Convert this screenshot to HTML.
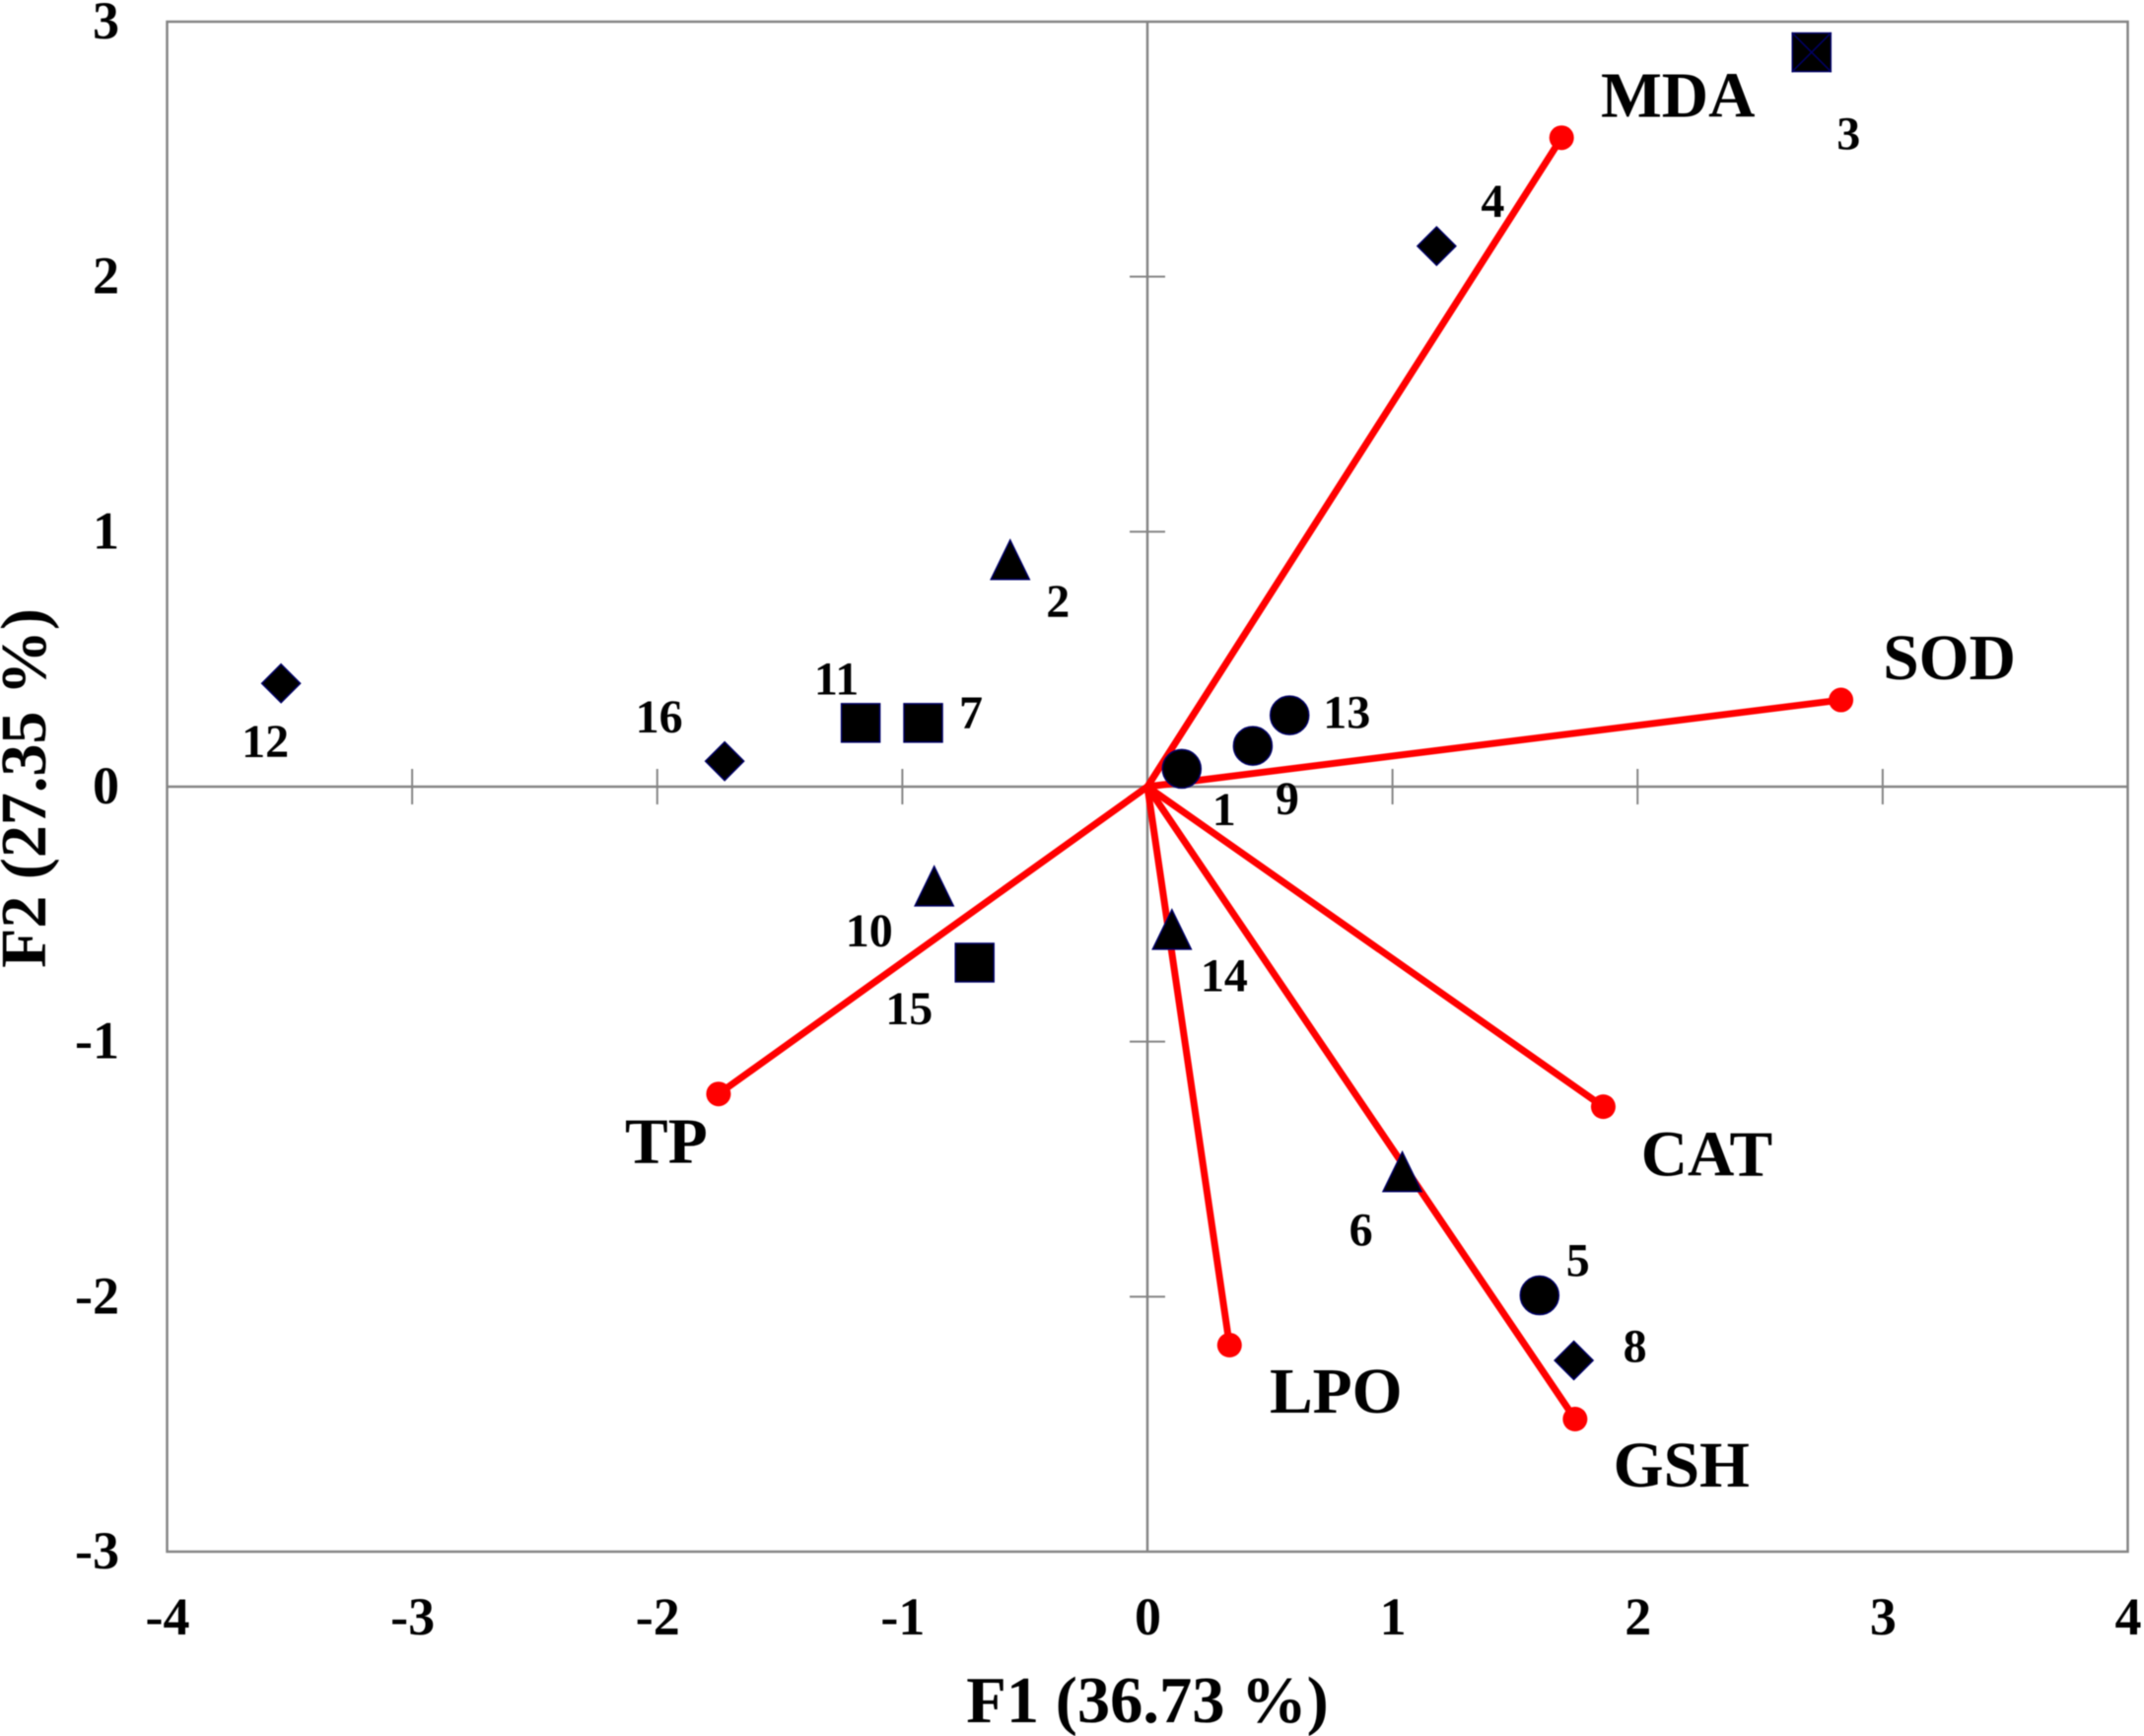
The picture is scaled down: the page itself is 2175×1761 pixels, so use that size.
<!DOCTYPE html>
<html>
<head>
<meta charset="utf-8">
<title>PCA biplot F1 vs F2</title>
<style>
  html, body { margin: 0; padding: 0; background: #fff; }
  svg { display: block; filter: blur(0.6px); }
  text { font-family: "Liberation Serif", serif; font-weight: bold; fill: #000; }
</style>
</head>
<body>
<svg id="chart" xmlns="http://www.w3.org/2000/svg" width="2175" height="1761" viewBox="0 0 2175 1761"></svg>
<script>
const xTicks = [-4, -3, -2, -1, 0, 1, 2, 3, 4];
const yTicks = [-3, -2, -1, 0, 1, 2, 3];

const varNames = ["MDA", "SOD", "CAT", "GSH", "LPO", "TP"];
const varF1 = [1.69, 2.83, 1.86, 1.745, 0.335, -1.75];
const varF2 = [2.545, 0.34, -1.255, -2.48, -2.19, -1.205];

const obsIds = ["1", "2", "3", "4", "5", "6", "7", "8", "9", "10", "11", "12", "13", "14", "15", "16"];
const obsF1 = [0.14, -0.56, 2.71, 1.18, 1.6, 1.04, -0.915, 1.74, 0.43, -0.87, -1.17, -3.535, 0.58, 0.1, -0.705, -1.725];
const obsF2 = [0.07, 0.89, 2.88, 2.12, -1.995, -1.51, 0.25, -2.25, 0.16, -0.39, 0.25, 0.405, 0.28, -0.56, -0.69, 0.1];
const obsGroup = ["circle", "triangle", "cross-square", "diamond", "circle", "triangle", "square", "diamond", "circle", "triangle", "square", "diamond", "circle", "triangle", "square", "diamond"];

const xAxisTitle = "F1 (36.73 %)";
const yAxisTitle = "F2 (27.35 %)";

const NS = "http://www.w3.org/2000/svg";
const svg = document.getElementById("chart");
const plot = { left: 169.5, right: 2158.5, top: 22, bottom: 1574 };
const sx = v => plot.left + (v + 4) * (plot.right - plot.left) / 8;
const sy = v => plot.bottom - (v + 3) * (plot.bottom - plot.top) / 6;

function make(tag, attrs, text) {
  const el = document.createElementNS(NS, tag);
  for (const k in attrs) el.setAttribute(k, attrs[k]);
  if (text !== undefined) el.textContent = text;
  svg.appendChild(el);
  return el;
}
const GREY = "#858585";
const NAVY = "#000066";

/* frame */
const frame = make("rect", { x: plot.left, y: plot.top, width: plot.right - plot.left, height: plot.bottom - plot.top, fill: "none", stroke: GREY, "stroke-width": 2.5 });



/* zero axes */
const xAxis = make("line", { x1: plot.left, x2: plot.right, y1: sy(0), y2: sy(0), stroke: GREY, "stroke-width": 2.5 });


const yAxis = make("line", { x1: sx(0), x2: sx(0), y1: plot.top, y2: plot.bottom, stroke: GREY, "stroke-width": 2.5 });



/* ticks + tick labels */
xTicks.forEach(t => {
  if (t !== 0 && Math.abs(t) < 4) {
    const tk = make("line", { x1: sx(t), x2: sx(t), y1: sy(0) - 18, y2: sy(0) + 18, stroke: GREY, "stroke-width": 2 });
    
    
  }
  const lb = make("text", { x: sx(t) + 0.5, y: 1658, "text-anchor": "middle", "font-size": 54 }, String(t));
  
  
});
yTicks.forEach(t => {
  if (t !== 0 && Math.abs(t) < 3) {
    const tk = make("line", { x1: sx(0) - 18, x2: sx(0) + 18, y1: sy(t), y2: sy(t), stroke: GREY, "stroke-width": 2 });
    
    
  }
  const lb = make("text", { x: 121, y: sy(t) + 17, "text-anchor": "end", "font-size": 54 }, String(t));
  
  
});

/* axis titles */
const xt = make("text", { x: 1164, y: 1747, "text-anchor": "middle", "font-size": 66.5 }, xAxisTitle);


const yt = make("text", { x: 46, y: 799.5, "text-anchor": "middle", "font-size": 66, transform: "rotate(-90 46 799.5)" }, yAxisTitle);



/* loading vectors */
const varLabelShift = { MDA: [118, -21], SOD: [110, -21], CAT: [105, 70], GSH: [108, 68.5], LPO: [108, 68.5], TP: [-53, 70] };
varNames.forEach((name, i) => {
  const ln = make("line", { x1: sx(0), y1: sy(0), x2: sx(varF1[i]), y2: sy(varF2[i]), stroke: "#ff0000", "stroke-width": 7 });
  
  
  const dot = make("circle", { cx: sx(varF1[i]), cy: sy(varF2[i]), r: 12.5, fill: "#ff0000" });
  
  
  const s = varLabelShift[name];
  const lb = make("text", { x: sx(varF1[i]) + s[0], y: sy(varF2[i]) + s[1], "text-anchor": "middle", "font-size": 65.5 }, name);
  
  
});

/* observations */
const obsLabelShift = {
  "1": [43, 57], "2": [48.5, 58], "3": [37.5, 98.5], "4": [57, -29.5],
  "5": [39, -19.5], "6": [-42, 75], "7": [48.5, 5.5], "8": [62, 1.5],
  "9": [35, 69.5], "10": [-66, 61], "11": [-24.5, -29], "12": [-16, 75],
  "13": [58, 13], "14": [53, 62.5], "15": [-66.5, 62.5], "16": [-66.5, -29]
};
const R = 20;
obsIds.forEach((id, i) => {
  const cx = sx(obsF1[i]), cy = sy(obsF2[i]);
  const g = obsGroup[i];
  const style = { fill: "#000", stroke: NAVY, "stroke-width": 1.5 };
  let mark;
  if (g === "circle") {
    mark = make("circle", Object.assign({ cx: cx, cy: cy, r: R - 0.5 }, style));
  } else if (g === "square" || g === "cross-square") {
    mark = make("rect", Object.assign({ x: cx - R + 0.5, y: cy - R + 0.5, width: 2 * R - 1, height: 2 * R - 1 }, style));
  } else if (g === "diamond") {
    mark = make("polygon", Object.assign({ points: [[cx, cy - R + 0.5], [cx + R - 0.5, cy], [cx, cy + R - 0.5], [cx - R + 0.5, cy]].join(" ") }, style));
  } else {
    mark = make("polygon", Object.assign({ points: [[cx, cy - R], [cx + R - 0.5, cy + R], [cx - R + 0.5, cy + R]].join(" ") }, style));
  }
  
  
  if (g === "cross-square") {
    const c1 = make("path", { d: "M" + (cx - R) + " " + (cy - R) + "L" + (cx + R) + " " + (cy + R) + "M" + (cx + R) + " " + (cy - R) + "L" + (cx - R) + " " + (cy + R), stroke: NAVY, "stroke-width": 1.5, fill: "none" });
    
    
  }
  const s = obsLabelShift[id];
  const lb = make("text", { x: cx + s[0], y: cy + s[1], "text-anchor": "middle", "font-size": 48 }, id);
  
  
});
</script>
</body>
</html>
